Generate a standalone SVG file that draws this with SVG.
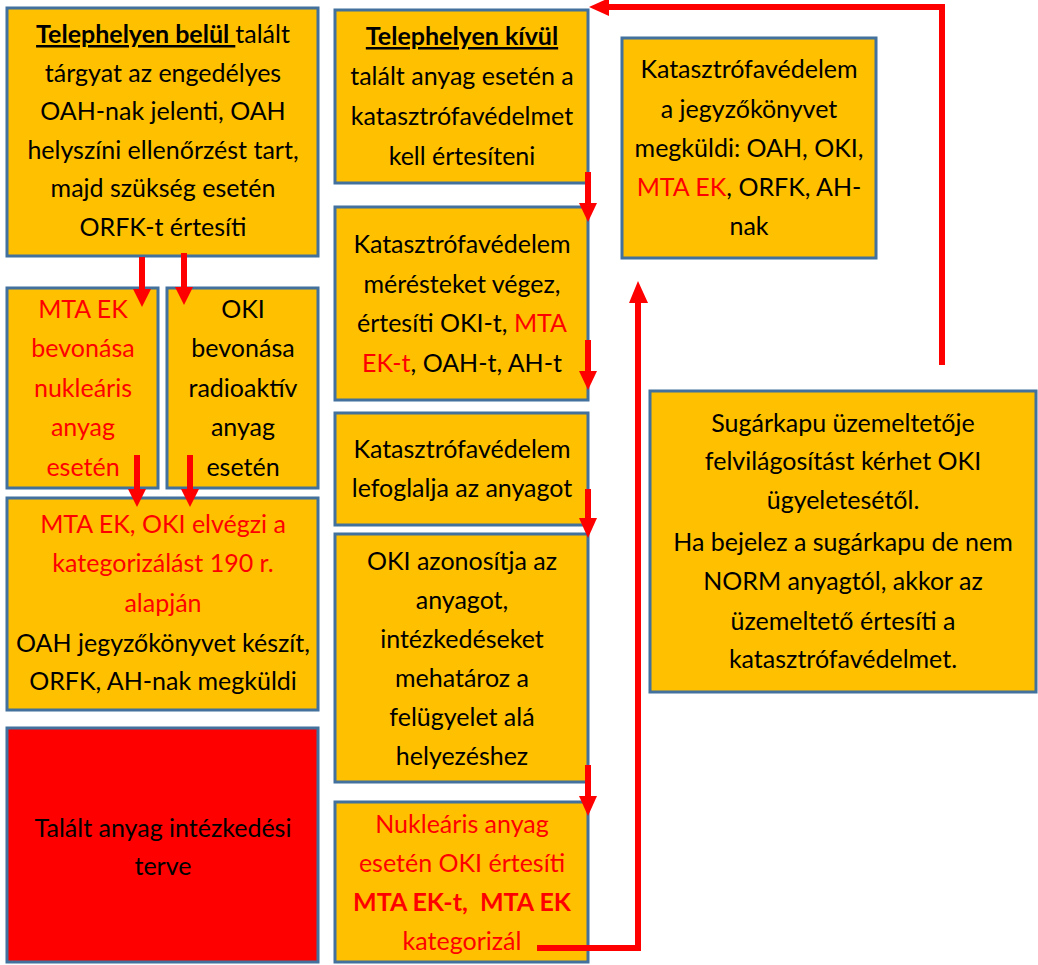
<svg xmlns="http://www.w3.org/2000/svg" width="1038" height="965" viewBox="0 0 1038 965">
<style>
.box{fill:#FFC000;stroke:#41719C;stroke-width:3}
.redbox{fill:#FF0000;stroke:#41719C;stroke-width:3}
text{font-family:Lato,"Open Sans","Liberation Sans",sans-serif;font-size:25px;fill:#000;text-anchor:middle}
.r{fill:#FF0000}
.b{font-weight:bold}
.u{text-decoration:underline}
.line{fill:none;stroke:#FF0000;stroke-width:6}
.head{fill:#FF0000}
</style>
<rect width="1038" height="965" fill="#FFFFFF"/>
<g id="n1">
  <rect class="box" x="7" y="8" width="311" height="248"/>
  <text x="163" y="43"><tspan class="b u">Telephelyen belül </tspan>talált</text>
  <text x="163" y="82">tárgyat az engedélyes</text>
  <text x="163" y="120">OAH-nak jelenti, OAH</text>
  <text x="163" y="159">helyszíni ellenőrzést tart,</text>
  <text x="163" y="197">majd szükség esetén</text>
  <text x="163" y="236">ORFK-t értesíti</text>
</g>
<g id="n2">
  <rect class="box" x="7" y="288" width="151" height="200"/>
  <text class="r" x="83" y="318">MTA EK</text>
  <text class="r" x="83" y="357">bevonása</text>
  <text class="r" x="83" y="397">nukleáris</text>
  <text class="r" x="83" y="436">anyag</text>
  <text class="r" x="83" y="476">esetén</text>
</g>
<g id="n3">
  <rect class="box" x="167" y="288" width="151" height="200"/>
  <text x="243" y="318">OKI</text>
  <text x="243" y="357">bevonása</text>
  <text x="243" y="397">radioaktív</text>
  <text x="243" y="436">anyag</text>
  <text x="243" y="476">esetén</text>
</g>
<g id="n4">
  <rect class="box" x="7" y="498" width="311" height="212"/>
  <text class="r" x="163" y="533">MTA EK, OKI elvégzi a</text>
  <text class="r" x="163" y="572">kategorizálást 190 r.</text>
  <text class="r" x="163" y="612">alapján</text>
  <text x="163" y="652">OAH jegyzőkönyvet készít,</text>
  <text x="163" y="690">ORFK, AH-nak megküldi</text>
</g>
<g id="n5">
  <rect class="redbox" x="7" y="728" width="311" height="234"/>
  <text x="163" y="837">Talált anyag intézkedési</text>
  <text x="163" y="875">terve</text>
</g>
<g id="n6">
  <rect class="box" x="335" y="10" width="253" height="173"/>
  <text class="b u" x="462" y="45">Telephelyen kívül</text>
  <text x="462" y="85">talált anyag esetén a</text>
  <text x="462" y="125">katasztrófavédelmet</text>
  <text x="462" y="165">kell értesíteni</text>
</g>
<g id="n7">
  <rect class="box" x="335" y="207" width="253" height="193"/>
  <text x="462" y="253">Katasztrófavédelem</text>
  <text x="462" y="293">mérésteket végez,</text>
  <text x="462" y="332">értesíti OKI-t, <tspan class="r">MTA</tspan></text>
  <text x="462" y="372"><tspan class="r">EK-t</tspan>, OAH-t, AH-t</text>
</g>
<g id="n8">
  <rect class="box" x="335" y="413" width="253" height="112"/>
  <text x="462" y="458">Katasztrófavédelem</text>
  <text x="462" y="497">lefoglalja az anyagot</text>
</g>
<g id="n9">
  <rect class="box" x="335" y="534" width="253" height="248"/>
  <text x="462" y="570">OKI azonosítja az</text>
  <text x="462" y="609">anyagot,</text>
  <text x="462" y="648">intézkedéseket</text>
  <text x="462" y="687">mehatároz a</text>
  <text x="462" y="726">felügyelet alá</text>
  <text x="462" y="765">helyezéshez</text>
</g>
<g id="n10">
  <rect class="box" x="335" y="802" width="253" height="160"/>
  <text class="r" x="462" y="833">Nukleáris anyag</text>
  <text class="r" x="462" y="872">esetén OKI értesíti</text>
  <text class="r b" x="462" y="911" xml:space="preserve">MTA EK-t,  MTA EK</text>
  <text class="r" x="462" y="950">kategorizál</text>
</g>
<g id="n11">
  <rect class="box" x="622" y="38" width="254" height="220"/>
  <text x="749" y="78">Katasztrófavédelem</text>
  <text x="749" y="118">a jegyzőkönyvet</text>
  <text x="749" y="157">megküldi: OAH, OKI,</text>
  <text x="749" y="196"><tspan class="r">MTA EK</tspan>, ORFK, AH-</text>
  <text x="749" y="235">nak</text>
</g>
<g id="n12">
  <rect class="box" x="650" y="391" width="386" height="301"/>
  <text x="843" y="432">Sugárkapu üzemeltetője</text>
  <text x="843" y="470">felvilágosítást kérhet OKI</text>
  <text x="843" y="509">ügyeletesétől.</text>
  <text x="843" y="551">Ha bejelez a sugárkapu de nem</text>
  <text x="843" y="590">NORM anyagtól, akkor az</text>
  <text x="843" y="630">üzemeltető értesíti a</text>
  <text x="843" y="668">katasztrófavédelmet.</text>
</g>
<g id="connectors">
  <line class="line" x1="142" y1="257" x2="142" y2="292"/>
  <polygon class="head" points="133,289 151,289 142,307"/>
  <line class="line" x1="184" y1="253" x2="184" y2="290"/>
  <polygon class="head" points="175,287 193,287 184,305"/>
  <line class="line" x1="137" y1="455" x2="137" y2="492"/>
  <polygon class="head" points="128,489 146,489 137,507"/>
  <line class="line" x1="190" y1="455" x2="190" y2="492"/>
  <polygon class="head" points="181,489 199,489 190,507"/>
  <line class="line" x1="588" y1="172" x2="588" y2="206"/>
  <polygon class="head" points="579,203 597,203 588,222"/>
  <line class="line" x1="588" y1="340" x2="588" y2="374"/>
  <polygon class="head" points="579,371 597,371 588,390"/>
  <line class="line" x1="588" y1="489" x2="588" y2="521"/>
  <polygon class="head" points="579,518 597,518 588,538"/>
  <line class="line" x1="588" y1="765" x2="588" y2="799"/>
  <polygon class="head" points="579,796 597,796 588,816"/>
  <polyline class="line" points="537,948 638,948 638,300"/>
  <polygon class="head" points="629,303 648,303 638,281"/>
  <polyline class="line" points="942,365 942,7 606,7"/>
  <polygon class="head" points="609,-2 609,16 589,7"/>
</g>
</svg>
